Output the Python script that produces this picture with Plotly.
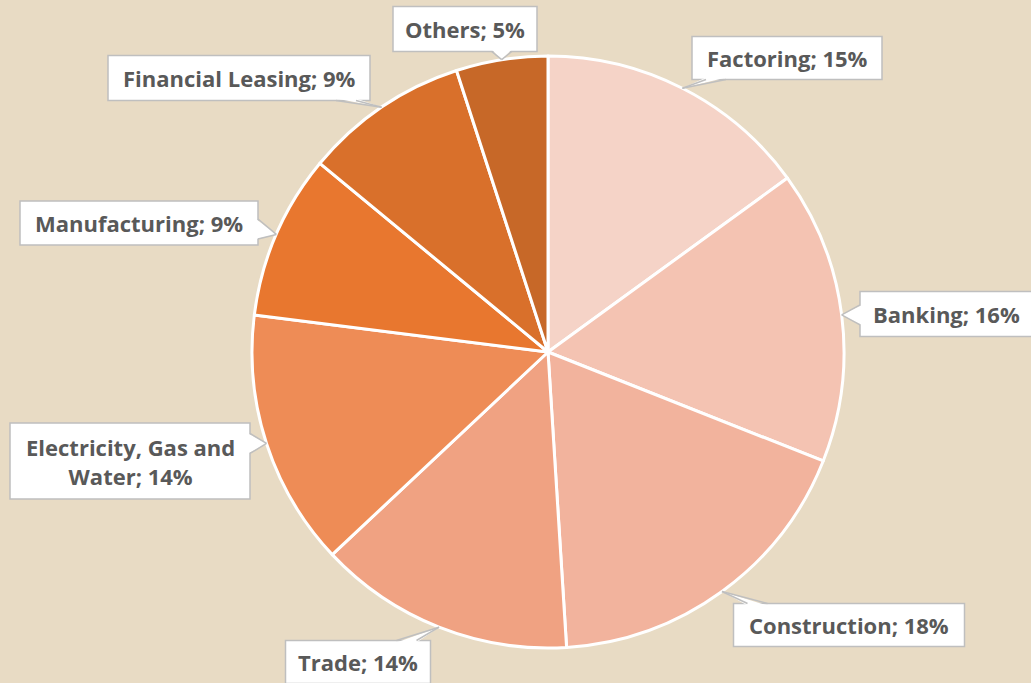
import math
import plotly.graph_objects as go

# ---- data ----
categories = ["Factoring", "Banking", "Construction", "Trade",
              "Electricity, Gas and Water", "Manufacturing",
              "Financial Leasing", "Others"]
shares = [15, 16, 18, 14, 14, 9, 9, 5]
label_texts = ["Factoring; 15%", "Banking; 16%", "Construction; 18%", "Trade; 14%",
               "Electricity, Gas and<br>Water; 14%", "Manufacturing; 9%",
               "Financial Leasing; 9%", "Others; 5%"]

# ---- style / layout ----
W, H = 1031, 683
colors = ["#F5D3C7", "#F4C3B2", "#F2B39D", "#F0A282", "#EE8C56",
          "#E8772F", "#D9702B", "#C76828"]
bg = "#E8DBC4"
text_color = "#595959"
border_color = "#BFBFBF"
cx, cy, R = 548, 352, 296  # pie centre/radius in pixels
# label boxes (pixel): centre x, centre y, width, height
boxes = [(787, 58, 190, 43), (946, 314, 172, 45), (849, 625, 231, 43),
         (358, 662, 145, 43), (130, 461, 240, 76), (139, 223, 238, 44),
         (239, 78, 262, 45), (465, 29, 144, 45)]

def px(x):
    return x / W

def py(y):
    return 1 - y / H

fig = go.Figure()
fig.add_trace(go.Pie(
    labels=categories, values=shares, sort=False, direction="clockwise",
    rotation=0, marker=dict(colors=colors, line=dict(color="white", width=3)),
    textinfo="none", hoverinfo="label+percent", showlegend=False,
    domain=dict(x=[px(cx - R), px(cx + R)], y=[py(cy + R), py(cy - R)]),
))

shapes = []
annotations = []
total = sum(shares)
cum = 0
for i, v in enumerate(shares):
    mid = (cum + v / 2) / total * 2 * math.pi
    cum += v
    tx = cx + R * math.sin(mid)
    ty = cy - R * math.cos(mid)
    bx, by, bw, bh = boxes[i]
    x0, x1, y0, y1 = bx - bw / 2, bx + bw / 2, by - bh / 2, by + bh / 2
    # box
    shapes.append(dict(type="rect", xref="paper", yref="paper",
                       x0=px(x0), x1=px(x1), y0=py(y1), y1=py(y0),
                       fillcolor="white", line=dict(color=border_color, width=1.5),
                       layer="above"))
    # pointer wedge
    half = 10
    if ty > y1:
        side = "bottom"
    elif ty < y0:
        side = "top"
    elif tx < x0:
        side = "left"
    else:
        side = "right"
    if side in ("top", "bottom"):
        ey = y1 if side == "bottom" else y0
        c = min(max(tx, x0 + half + 14), x1 - half - 14)
        p1, p2 = (c - half, ey), (c + half, ey)
        inset = -2 if side == "bottom" else 2
        q1, q2 = (c - half, ey + inset), (c + half, ey + inset)
    else:
        ex = x0 if side == "left" else x1
        c = min(max(ty, y0 + half + 6), y1 - half - 6)
        p1, p2 = (ex, c - half), (ex, c + half)
        inset = 2 if side == "left" else -2
        q1, q2 = (ex + inset, c - half), (ex + inset, c + half)
    path = "M {} {} L {} {} L {} {} L {} {} Z".format(
        px(q1[0]), py(q1[1]), px(tx), py(ty), px(q2[0]), py(q2[1]),
        px(q2[0]), py(q2[1]))
    shapes.append(dict(type="path", xref="paper", yref="paper", path=path,
                       fillcolor="white", line=dict(width=0), layer="above"))
    for p in (p1, p2):
        shapes.append(dict(type="line", xref="paper", yref="paper",
                           x0=px(p[0]), y0=py(p[1]), x1=px(tx), y1=py(ty),
                           line=dict(color=border_color, width=1.5), layer="above"))
    annotations.append(dict(x=px(bx), y=py(by), xref="paper", yref="paper",
                            text="<b>" + label_texts[i] + "</b>", showarrow=False,
                            font=dict(family="Open Sans", size=22, color=text_color),
                            xanchor="center", yanchor="middle"))

fig.update_layout(
    width=W, height=H, paper_bgcolor=bg, plot_bgcolor=bg,
    margin=dict(l=0, r=0, t=0, b=0), shapes=shapes, annotations=annotations,
)
fig.write_html("out.html", config={"displayModeBar": False},
               post_script="document.body.style.margin='0';")
